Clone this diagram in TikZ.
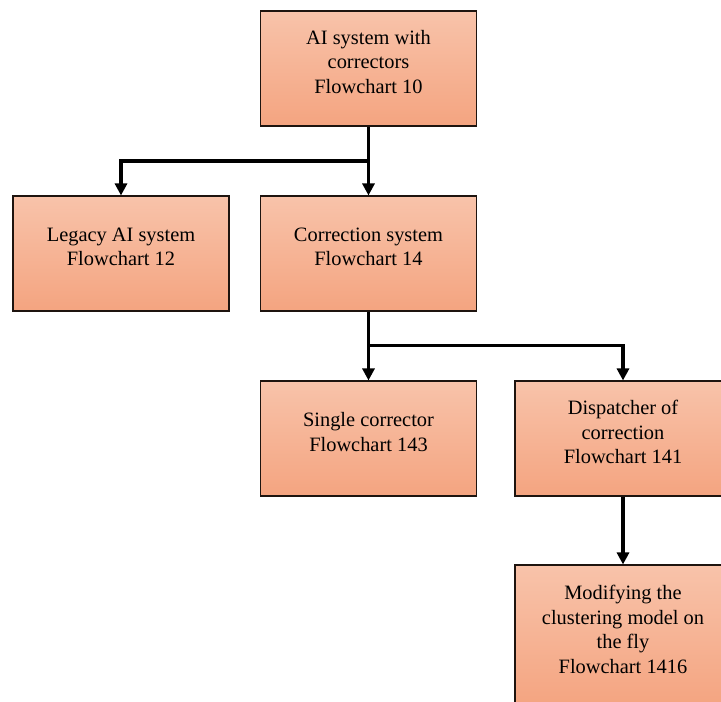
\documentclass[tikz,border=0pt]{standalone}
\usepackage{fontspec}
\setmainfont{Liberation Serif}
\usetikzlibrary{arrows.meta}
\definecolor{boxtop}{RGB}{248,195,170}
\definecolor{boxbot}{RGB}{244,164,128}
\definecolor{boxline}{RGB}{30,20,15}
\begin{document}
\begin{tikzpicture}[x=1pt,y=-1pt,
  box/.style={draw=boxline, line width=1.1pt, top color=boxtop, bottom color=boxbot,
    minimum width=216pt, minimum height=115pt, inner sep=0pt},
  lbl/.style={align=center, font=\fontsize{20.4}{24.5}\selectfont, inner sep=0pt},
  link/.style={line width=3.3pt, line join=miter},
  arr/.style={link, -{Triangle[length=12pt,width=12pt]}}]
\useasboundingbox (0,0) rectangle (721,702);

% boxes
\node[box] (top)  at (368.5,68.5)  {};
\node[box] (legacy) at (121,253.5) {};
\node[box] (corr) at (368.5,253.5) {};
\node[box] (single) at (368.5,438.5) {};
\node[box] (disp) at (623,438.5) {};
\node[box, minimum height=142pt] (modif) at (623,636) {};

% labels
\node[lbl] (ltop) at ([yshift=6.5pt]top.center) {AI system with\\correctors\\Flowchart 10};
\node[lbl] (llegacy) at ([yshift=6.5pt]legacy.center) {Legacy AI system\\Flowchart 12};
\node[lbl] (lcorr) at ([yshift=6.5pt]corr.center) {Correction system\\Flowchart 14};
\node[lbl] (lsingle) at ([yshift=6.5pt]single.center) {Single corrector\\Flowchart 143};
\node[lbl] (ldisp) at ([yshift=6.5pt]disp.center) {Dispatcher of\\correction\\Flowchart 141};
\node[lbl] (lmodif) at ([yshift=6.5pt]modif.center) {Modifying the\\clustering model on\\the fly\\Flowchart 1416};

% connectors
\coordinate (j1) at (368.5,161);
\coordinate (j2) at (368.5,345.5);
\draw[link] (top.south) -- (j1);
\draw[arr] (j1) -| (legacy.north);
\draw[arr] (j1) -- (corr.north);
\draw[link] (corr.south) -- (j2);
\draw[arr] (j2) -- (single.north);
\draw[arr] (j2) -| (disp.north);
\draw[arr] (disp.south) -- (modif.north);
\end{tikzpicture}
\end{document}
